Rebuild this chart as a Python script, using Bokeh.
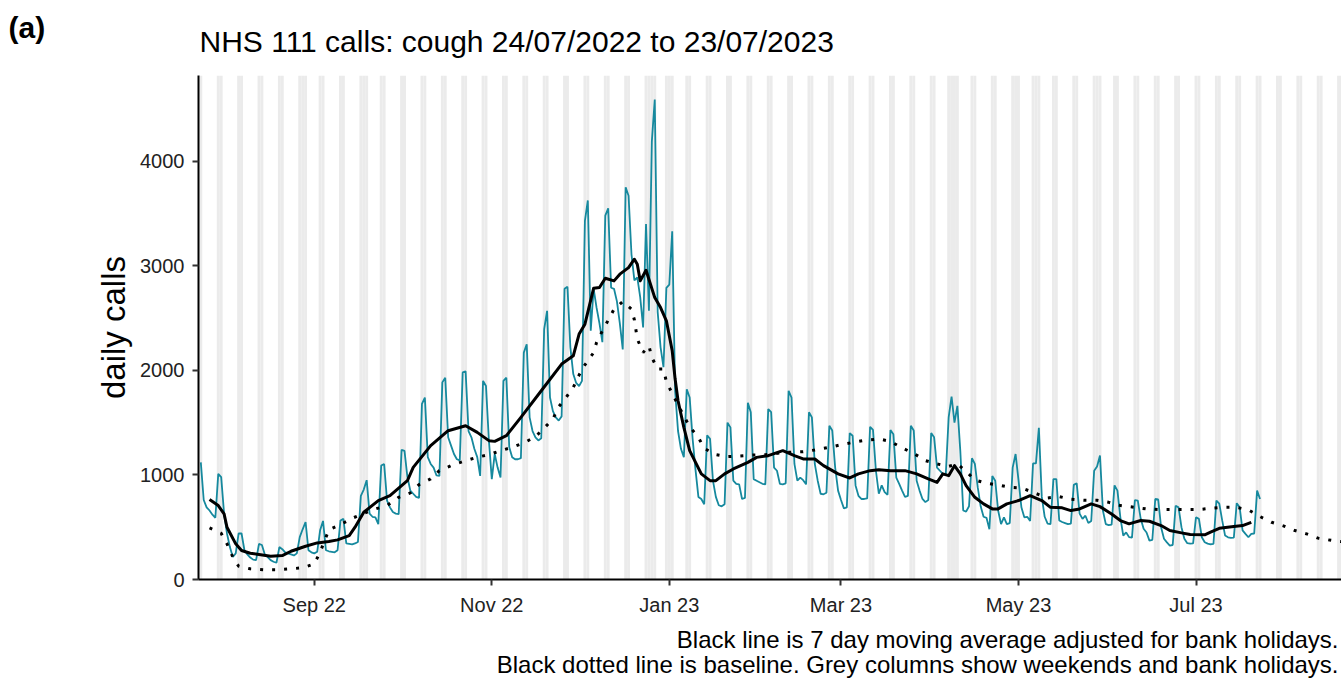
import pandas as pd
from bokeh.plotting import figure
from bokeh.models import Range1d, FixedTicker, Title
from bokeh.embed import file_html
from bokeh.resources import INLINE

# ---------------- data ----------------
first_date = "2022-07-24"
first_day_calls = [1120]  # Sun 24 Jul 2022
# each row: Mon..Sun, week commencing the Monday in the comment
weekly_calls = [
    [760, 690, 660, 620, 590, 1010, 980],        # 25 Jul
    [630, 440, 310, 215, 250, 440, 440],         # 1 Aug
    [280, 240, 210, 190, 185, 340, 330],         # 8 Aug
    [240, 215, 185, 170, 160, 310, 290],         # 15 Aug
    [260, 250, 240, 230, 250, 405, 480],         # 22 Aug
    [550, 280, 260, 250, 265, 470, 560],         # 29 Aug
    [280, 270, 265, 260, 280, 565, 580],         # 5 Sep
    [345, 340, 335, 345, 360, 800, 860],         # 12 Sep
    [950, 630, 600, 595, 530, 1090, 1105],       # 19 Sep
    [755, 690, 645, 630, 625, 1240, 1230],       # 26 Sep
    [980, 850, 820, 790, 780, 1680, 1740],       # 3 Oct
    [1170, 1105, 1070, 995, 990, 1885, 1930],    # 10 Oct
    [1360, 1280, 1200, 1150, 1140, 1980, 1990],  # 17 Oct
    [1420, 1360, 1250, 1170, 990, 1900, 1850],   # 24 Oct
    [1330, 960, 1200, 1070, 975, 1900, 1930],    # 31 Oct
    [1265, 1170, 1150, 1150, 1160, 2170, 2250],  # 7 Nov
    [1550, 1420, 1360, 1330, 1350, 2395, 2570],  # 14 Nov
    [1740, 1610, 1550, 1520, 1560, 2780, 2800],  # 21 Nov
    [2220, 1965, 1880, 1850, 1900, 3430, 3625],  # 28 Nov
    [2380, 2780, 2600, 2450, 2270, 3480, 3550],  # 5 Dec
    [2790, 2780, 2660, 2450, 2200, 3750, 3670],  # 12 Dec
    [3110, 2860, 2890, 2700, 2410, 3400, 2570],  # 19 Dec
    [4190, 4590, 2560, 2220, 2030, 2790, 2820],  # 26 Dec
    [3330, 1800, 1420, 1250, 1170, 1820, 1740],  # 2 Jan
    [1350, 1050, 790, 770, 720, 1380, 1345],     # 9 Jan
    [945, 790, 710, 700, 720, 1500, 1455],       # 16 Jan
    [945, 915, 910, 770, 780, 1690, 1600],       # 23 Jan
    [960, 945, 930, 915, 910, 1630, 1600],       # 30 Jan
    [1070, 1040, 915, 910, 920, 1805, 1740],     # 6 Feb
    [1105, 945, 975, 950, 910, 1600, 1550],      # 13 Feb
    [1105, 945, 820, 815, 830, 1470, 1425],      # 20 Feb
    [1070, 850, 760, 680, 690, 1400, 1375],      # 27 Feb
    [900, 800, 770, 770, 775, 1460, 1430],       # 6 Mar
    [1040, 820, 900, 835, 810, 1430, 1390],      # 13 Mar
    [975, 915, 850, 790, 800, 1470, 1425],       # 20 Mar
    [945, 850, 770, 740, 760, 1400, 1360],       # 27 Mar
    [1070, 1040, 1010, 1000, 1550, 1750, 1500],  # 3 Apr
    [1660, 1230, 660, 650, 700, 1160, 1105],     # 10 Apr
    [880, 700, 600, 590, 480, 990, 945],         # 17 Apr
    [660, 530, 595, 530, 540, 1070, 1200],       # 24 Apr
    [950, 690, 595, 600, 560, 1110, 1110],       # 1 May
    [1450, 790, 600, 535, 530, 960, 960],        # 8 May
    [565, 550, 540, 530, 535, 905, 920],         # 15 May
    [630, 580, 610, 540, 560, 1040, 1080],       # 22 May
    [1185, 660, 530, 520, 525, 900, 850],        # 29 May
    [595, 420, 450, 405, 400, 760, 755],         # 5 Jun
    [580, 485, 450, 372, 380, 770, 765],         # 12 Jun
    [500, 390, 355, 325, 330, 705, 690],         # 19 Jun
    [500, 390, 347, 343, 345, 595, 580],         # 26 Jun
    [404, 356, 343, 337, 340, 755, 725],         # 3 Jul
    [565, 420, 404, 398, 400, 730, 690],         # 10 Jul
    [470, 436, 404, 436, 440, 850, 770],         # 17 Jul
]

ma_dates = [
    "2022-07-27", "2022-07-30", "2022-08-01", "2022-08-02", "2022-08-05", "2022-08-07",
    "2022-08-10", "2022-08-13", "2022-08-17", "2022-08-21", "2022-08-24", "2022-08-29",
    "2022-09-02", "2022-09-06", "2022-09-09", "2022-09-13", "2022-09-15", "2022-09-18",
    "2022-09-23", "2022-09-27", "2022-10-01", "2022-10-03", "2022-10-05", "2022-10-11",
    "2022-10-17", "2022-10-23", "2022-10-27", "2022-10-31", "2022-11-02", "2022-11-06",
    "2022-11-11", "2022-11-18", "2022-11-25", "2022-11-29", "2022-12-01", "2022-12-03",
    "2022-12-06", "2022-12-08", "2022-12-10", "2022-12-13", "2022-12-15", "2022-12-18",
    "2022-12-20", "2022-12-21", "2022-12-22", "2022-12-24", "2022-12-27", "2022-12-29",
    "2022-12-31", "2023-01-02", "2023-01-03", "2023-01-04", "2023-01-06", "2023-01-08",
    "2023-01-12", "2023-01-15", "2023-01-17", "2023-01-20", "2023-01-23", "2023-01-28",
    "2023-01-31", "2023-02-04", "2023-02-09", "2023-02-13", "2023-02-16", "2023-02-20",
    "2023-02-23", "2023-02-28", "2023-03-04", "2023-03-07", "2023-03-11", "2023-03-14",
    "2023-03-18", "2023-03-23", "2023-03-27", "2023-03-31", "2023-04-03", "2023-04-05",
    "2023-04-07", "2023-04-09", "2023-04-11", "2023-04-13", "2023-04-16", "2023-04-19",
    "2023-04-22", "2023-04-24", "2023-04-27", "2023-05-01", "2023-05-05", "2023-05-09",
    "2023-05-12", "2023-05-16", "2023-05-19", "2023-05-22", "2023-05-26", "2023-05-29",
    "2023-06-02", "2023-06-05", "2023-06-08", "2023-06-12", "2023-06-15", "2023-06-19",
    "2023-06-22", "2023-06-26", "2023-06-29", "2023-07-04", "2023-07-06", "2023-07-09",
    "2023-07-14", "2023-07-17", "2023-07-20",
]
ma_values = [
    764, 707, 627, 500, 341, 277,
    251, 239, 223, 229, 270, 318,
    350, 363, 379, 420, 500, 643,
    755, 802, 898, 945, 1072, 1280,
    1423, 1471, 1407, 1328, 1321, 1375,
    1550, 1805, 2060, 2139, 2347, 2442,
    2786, 2792, 2881, 2856, 2920, 2983,
    3063, 3015, 2856, 2958, 2696, 2601,
    2474, 2187, 1917, 1710, 1455, 1232,
    1010, 945, 945, 1010, 1057, 1120,
    1168, 1184, 1232, 1184, 1153, 1153,
    1089, 1010, 971, 1010, 1041, 1050,
    1041, 1041, 1010, 962, 929, 1010,
    993, 1089, 1010, 898, 786, 723,
    675, 675, 723, 755, 802, 755,
    690, 685, 659, 675, 723, 697,
    627, 564, 532, 564, 557, 516,
    468, 446, 430, 427, 452, 490,
    506, 516, 547,
]

baseline_dates = [
    "2022-07-27", "2022-07-31", "2022-08-02", "2022-08-04", "2022-08-06", "2022-08-10",
    "2022-08-15", "2022-08-19", "2022-08-24", "2022-08-28", "2022-09-01", "2022-09-03",
    "2022-09-06", "2022-09-10", "2022-09-14", "2022-09-18", "2022-09-22", "2022-09-26",
    "2022-09-30", "2022-10-04", "2022-10-07", "2022-10-11", "2022-10-14", "2022-10-18",
    "2022-10-22", "2022-10-27", "2022-10-31", "2022-11-04", "2022-11-08", "2022-11-12",
    "2022-11-16", "2022-11-19", "2022-11-22", "2022-11-24", "2022-11-26", "2022-11-29",
    "2022-12-01", "2022-12-03", "2022-12-06", "2022-12-07", "2022-12-09", "2022-12-11",
    "2022-12-13", "2022-12-16", "2022-12-19", "2022-12-20", "2022-12-21", "2022-12-23",
    "2022-12-25", "2022-12-26", "2022-12-28", "2022-12-30", "2022-12-31", "2023-01-02",
    "2023-01-04", "2023-01-06", "2023-01-08", "2023-01-11", "2023-01-13", "2023-01-17",
    "2023-01-21", "2023-01-25", "2023-01-30", "2023-02-03", "2023-02-10", "2023-02-16",
    "2023-02-20", "2023-02-25", "2023-03-01", "2023-03-05", "2023-03-10", "2023-03-14",
    "2023-03-18", "2023-03-22", "2023-03-26", "2023-03-30", "2023-04-03", "2023-04-07",
    "2023-04-10", "2023-04-13", "2023-04-16", "2023-04-20", "2023-04-24", "2023-04-28",
    "2023-05-02", "2023-05-11", "2023-05-15", "2023-05-19", "2023-05-24", "2023-05-28",
    "2023-06-01", "2023-06-05", "2023-06-10", "2023-06-14", "2023-06-18", "2023-06-23",
    "2023-06-27", "2023-07-02", "2023-07-06", "2023-07-10", "2023-07-15", "2023-07-19",
    "2023-07-23", "2023-07-27", "2023-07-31", "2023-08-04", "2023-08-08", "2023-08-12",
    "2023-08-17", "2023-08-22",
]
baseline_values = [
    494, 442, 341, 215, 127, 102,
    93, 93, 102, 112, 150, 261,
    475, 525, 585, 633, 675, 707,
    786, 828, 907, 962, 1041, 1089,
    1127, 1170, 1194, 1232, 1264, 1306,
    1366, 1449, 1535, 1652, 1720, 1837,
    1955, 2053, 2170, 2267, 2378, 2480,
    2585, 2658, 2585, 2483, 2300, 2171,
    2235, 2123, 2012, 2012, 1891, 1779,
    1671, 1563, 1461, 1359, 1254, 1194,
    1175, 1181, 1191, 1194, 1216, 1222,
    1239, 1264, 1289, 1311, 1334, 1344,
    1321, 1258, 1206, 1137, 1105, 1082,
    1105, 1034, 952, 920, 904, 882,
    876, 780, 793, 767, 757, 757,
    738, 707, 690, 675, 669, 669,
    669, 669, 681, 690, 690, 666,
    602, 547, 513, 468, 436, 395,
    372, 355,
]

bank_holidays = [
    "2022-08-29", "2022-09-19", "2022-12-26", "2022-12-27", "2023-01-02",
    "2023-04-07", "2023-04-10", "2023-05-01", "2023-05-08", "2023-05-29", "2023-08-28",
]
shade_from, shade_to = "2022-07-23", "2023-08-27"

tick_dates = ["2022-09-01", "2022-11-01", "2023-01-01", "2023-03-01", "2023-05-01", "2023-07-01"]
tick_labels = ["Sep 22", "Nov 22", "Jan 23", "Mar 23", "May 23", "Jul 23"]
y_ticks = [0, 1000, 2000, 3000, 4000]

title_text = "NHS 111 calls: cough 24/07/2022 to 23/07/2023"
panel_text = "(a)"
y_label = "daily calls"
caption_lines = [
    "Black line is 7 day moving average adjusted for bank holidays.",
    "Black dotted line is baseline. Grey columns show weekends and bank holidays.",
]

# ---------------- build ----------------
daily_calls = first_day_calls + [v for wk in weekly_calls for v in wk]
dates = pd.date_range(first_date, periods=len(daily_calls), freq="D")
all_days = pd.date_range(shade_from, shade_to, freq="D")
shade_days = all_days[all_days.dayofweek >= 5].union(pd.to_datetime(bank_holidays))

FONT = "Liberation Sans"
Y_MAX = 4820
DAY_MS = 86400000

p = figure(
    width=1341, height=678, x_axis_type="datetime",
    x_range=Range1d(pd.Timestamp("2022-07-23 05:00"), pd.Timestamp("2023-08-20 00:00")),
    y_range=Range1d(0, Y_MAX),
    output_backend="svg", toolbar_location=None, title=None,
    min_border_left=198, min_border_right=0, min_border_top=75, min_border_bottom=99,
)
p.background_fill_color = "white"
p.border_fill_color = "white"
p.outline_line_color = None
p.xgrid.visible = False
p.ygrid.visible = False

p.vbar(x=shade_days, width=DAY_MS, bottom=0, top=Y_MAX, color="#EBEBEB", line_color=None)
p.line(dates, daily_calls, line_color="#16899E", line_width=1.8)
p.line(pd.to_datetime(ma_dates), ma_values, line_color="black", line_width=3, line_join="round")
p.line(pd.to_datetime(baseline_dates), baseline_values, line_color="black", line_width=3,
       line_dash="3 9", line_cap="butt")

tick_ms = [float(pd.Timestamp(d).value // 10**6) for d in tick_dates]
p.xaxis.ticker = FixedTicker(ticks=tick_ms)
p.xaxis.major_label_overrides = {t: lab for t, lab in zip(tick_ms, tick_labels)}
p.yaxis.ticker = FixedTicker(ticks=y_ticks)

for ax in (p.xaxis[0], p.yaxis[0]):
    ax.axis_line_color = "black"
    ax.axis_line_width = 2
    ax.major_tick_line_color = "#333333"
    ax.major_tick_line_width = 2
    ax.major_tick_out = 6
    ax.major_tick_in = 0
    ax.minor_tick_out = 0
    ax.minor_tick_in = 0
    ax.major_label_text_font = FONT
    ax.major_label_text_font_size = "20px"
    ax.major_label_text_color = "#222222"
    ax.major_label_standoff = 8

p.yaxis.axis_label = y_label
p.yaxis.axis_label_text_font = FONT
p.yaxis.axis_label_text_font_size = "33px"
p.yaxis.axis_label_text_font_style = "normal"
p.yaxis.axis_label_text_color = "black"
p.yaxis.axis_label_standoff = 5

# titles above: first added sits closest to the frame
p.add_layout(Title(text=title_text, align="left", offset=1, standoff=35,
                   text_font=FONT, text_font_size="30px", text_font_style="normal",
                   text_color="black"), "above")
p.add_layout(Title(text=panel_text, align="left", offset=-190, standoff=-77,
                   text_font=FONT, text_font_size="30px", text_font_style="bold",
                   text_color="black"), "above")
# captions below, right aligned
for line, so in zip(caption_lines, (11, -19)):
    p.add_layout(Title(text=line, align="right", offset=3, standoff=so,
                       text_font=FONT, text_font_size="24px", text_font_style="normal",
                       text_color="black"), "below")

open("out.html", "w").write(file_html(p, INLINE))
